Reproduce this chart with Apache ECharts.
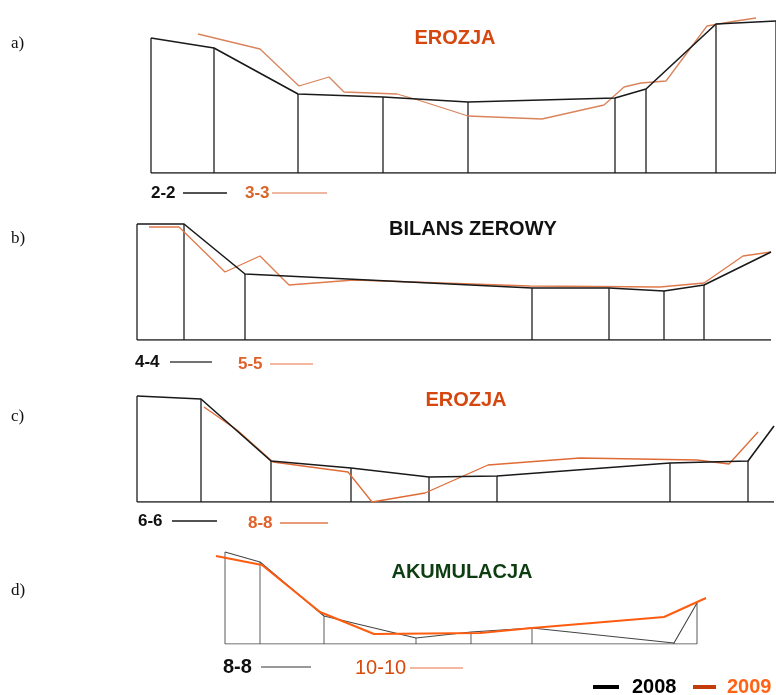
<!DOCTYPE html>
<html>
<head>
<meta charset="utf-8">
<script src="https://cdn.jsdelivr.net/npm/echarts@6/dist/echarts.min.js"></script>
<style>
  html, body { margin: 0; padding: 0; background: #fff; }
  #chart { width: 776px; height: 695px; }
</style>
</head>
<body>
<div id="chart"></div>
<script>
// profile data: [distance, height above base]
const sectionLabels = ['a)', 'b)', 'c)', 'd)'];
const sectionTitles = ['EROZJA', 'BILANS ZEROWY', 'EROZJA', 'AKUMULACJA'];
const lineNames2008 = ['2-2', '4-4', '6-6', '8-8'];
const lineNames2009 = ['3-3', '5-5', '8-8', '10-10'];
const yearLabels = ['2008', '2009'];

const profA2008 = [[0, 135], [63, 125], [147, 79], [232, 76], [317, 71], [464, 75], [495, 84], [565, 149], [625, 152]];
const profA2009 = [[47, 139], [109, 124], [148, 87], [178, 96], [193, 81], [246, 79], [267, 73], [317, 57], [391, 54], [453, 68], [473, 86], [490, 90], [515, 92], [556, 147], [585, 152], [605, 155]];

const profB2008 = [[0, 116], [47, 116], [108, 66], [395, 52], [472, 52], [527, 49], [567, 55], [634, 88]];
const profB2009 = [[12, 113], [42, 113], [88, 68], [123, 84], [152, 55], [217, 60], [393, 54], [523, 53], [567, 57], [606, 84], [634, 88]];

const profC2008 = [[0, 106], [64, 103], [134, 41], [214, 34], [292, 25], [360, 26], [533, 39], [611, 41], [637, 76]];
const profC2009 = [[67, 95], [100, 72], [136, 40], [211, 30], [235, 0], [288, 9], [351, 37], [443, 44], [560, 42], [592, 38], [621, 70]];

const profD2008 = [[9, 92], [44, 82], [108, 28], [200, 6], [255, 12], [316, 16], [458, 1], [481, 41]];
const profD2009 = [[0, 88], [46, 79], [104, 32], [158, 10], [264, 11], [316, 16], [448, 27], [490, 46]];

// layout of each panel (pixels)
const panels = [
  { old: profA2008, now: profA2009, left: 151, top: 13, width: 625, height: 160, piers: 9,
    oldColor: '#1a1a1a', oldWidth: 1.6, nowColor: '#d9845c', nowWidth: 1.3,
    titleX: 455, titleY: 38, titleColor: '#d5470f', labelY: 45,
    leg: { y: 193, y2: 193, size: 17, t1: 151, l1: [183, 227], t2: 245, l2: [272, 327], c2: '#d9642a', lc1: '#1a1a1a', lc2: '#e8a080' } },
  { old: profB2008, now: profB2009, left: 137, top: 210, width: 634, height: 130, piers: 7,
    oldColor: '#1a1a1a', oldWidth: 1.6, nowColor: '#e07a4a', nowWidth: 1.3,
    titleX: 473, titleY: 229, titleColor: '#111', labelY: 240,
    leg: { y: 362, y2: 364, size: 17, t1: 135, l1: [170, 212], t2: 238, l2: [270, 313], c2: '#e0622a', lc1: '#444', lc2: '#f0a080' } },
  { old: profC2008, now: profC2009, left: 137, top: 382, width: 637, height: 120, piers: 8,
    oldColor: '#1a1a1a', oldWidth: 1.6, nowColor: '#e06a35', nowWidth: 1.3,
    titleX: 466, titleY: 400, titleColor: '#d5470f', labelY: 418,
    leg: { y: 521, y2: 523, size: 17, t1: 138, l1: [172, 217], t2: 248, l2: [280, 328], c2: '#e0622a', lc1: '#1a1a1a', lc2: '#e07a4a' } },
  { old: profD2008, now: profD2009, left: 216, top: 540, width: 490, height: 104, piers: 8,
    oldColor: '#444', oldWidth: 1.1, nowColor: '#ff5c0f', nowWidth: 2,
    titleX: 462, titleY: 572, titleColor: '#0f3d12', labelY: 592,
    leg: { y: 667, y2: 668, size: 20, t1: 223, l1: [261, 311], t2: 355, l2: [410, 463], c2: '#d84a0a', lc1: '#777', lc2: '#f0a080' } }
];

const chart = echarts.init(document.getElementById('chart'));

const grid = [], xAxis = [], yAxis = [], series = [], graphic = [];

panels.forEach(function (p, i) {
  grid.push({ left: p.left, top: p.top, width: p.width, height: p.height });
  xAxis.push({ type: 'value', gridIndex: i, min: 0, max: p.width, show: false });
  yAxis.push({ type: 'value', gridIndex: i, min: 0, max: p.height, show: false });

  // base line under the section
  series.push({
    type: 'line', xAxisIndex: i, yAxisIndex: i, symbol: 'none', silent: true,
    data: [[p.old[0][0], 0], [p.old[p.old.length - 1][0], 0]],
    lineStyle: { color: p.oldColor, width: p.oldWidth }
  });
  // verticals at the survey points
  series.push({
    type: 'custom', xAxisIndex: i, yAxisIndex: i, silent: true,
    data: p.old.slice(0, p.piers),
    renderItem: function (params, api) {
      const a = api.coord([api.value(0), api.value(1)]);
      const b = api.coord([api.value(0), 0]);
      return { type: 'line', shape: { x1: a[0], y1: a[1], x2: b[0], y2: b[1] },
        style: { stroke: p.oldColor, lineWidth: p.oldWidth * 0.8 } };
    }
  });
  series.push({
    name: lineNames2009[i], type: 'line', xAxisIndex: i, yAxisIndex: i, symbol: 'none',
    data: p.now, lineStyle: { color: p.nowColor, width: p.nowWidth }, z: 3
  });
  series.push({
    name: lineNames2008[i], type: 'line', xAxisIndex: i, yAxisIndex: i, symbol: 'none',
    data: p.old, lineStyle: { color: p.oldColor, width: p.oldWidth }, z: i === 3 ? 2 : 4
  });

  // panel letter, title, small legend
  graphic.push({ type: 'text', left: 11, top: p.labelY - 10,
    style: { text: sectionLabels[i], font: '17px "Liberation Serif"', fill: '#111' } });
  graphic.push({ type: 'text', x: p.titleX, y: p.titleY,
    style: { text: sectionTitles[i], font: 'bold 20px "Liberation Sans"', fill: p.titleColor,
      align: 'center', verticalAlign: 'middle' } });
  const L = p.leg;
  graphic.push({ type: 'text', x: L.t1, y: L.y,
    style: { text: lineNames2008[i], font: 'bold ' + L.size + 'px "Liberation Sans"', fill: '#111', verticalAlign: 'middle' } });
  graphic.push({ type: 'line', shape: { x1: L.l1[0], y1: L.y, x2: L.l1[1], y2: L.y },
    style: { stroke: L.lc1, lineWidth: 1.5 } });
  graphic.push({ type: 'text', x: L.t2, y: L.y2,
    style: { text: lineNames2009[i], font: (i === 3 ? '' : 'bold ') + L.size + 'px "Liberation Sans"', fill: L.c2, verticalAlign: 'middle' } });
  graphic.push({ type: 'line', shape: { x1: L.l2[0], y1: L.y2, x2: L.l2[1], y2: L.y2 },
    style: { stroke: L.lc2, lineWidth: 1.5 } });
});

// year key, bottom right
graphic.push({ type: 'line', shape: { x1: 593, y1: 687, x2: 619, y2: 687 }, style: { stroke: '#000', lineWidth: 4 } });
graphic.push({ type: 'text', x: 632, y: 687,
  style: { text: yearLabels[0], font: 'bold 20px "Liberation Sans"', fill: '#000', verticalAlign: 'middle' } });
graphic.push({ type: 'line', shape: { x1: 693, y1: 687, x2: 716, y2: 687 }, style: { stroke: '#c23c0c', lineWidth: 4 } });
graphic.push({ type: 'text', x: 727, y: 687,
  style: { text: yearLabels[1], font: 'bold 20px "Liberation Sans"', fill: '#ff6414', verticalAlign: 'middle' } });

chart.setOption({
  backgroundColor: '#fff',
  animation: false,
  grid: grid,
  xAxis: xAxis,
  yAxis: yAxis,
  series: series,
  graphic: graphic
});
</script>
</body>
</html>
